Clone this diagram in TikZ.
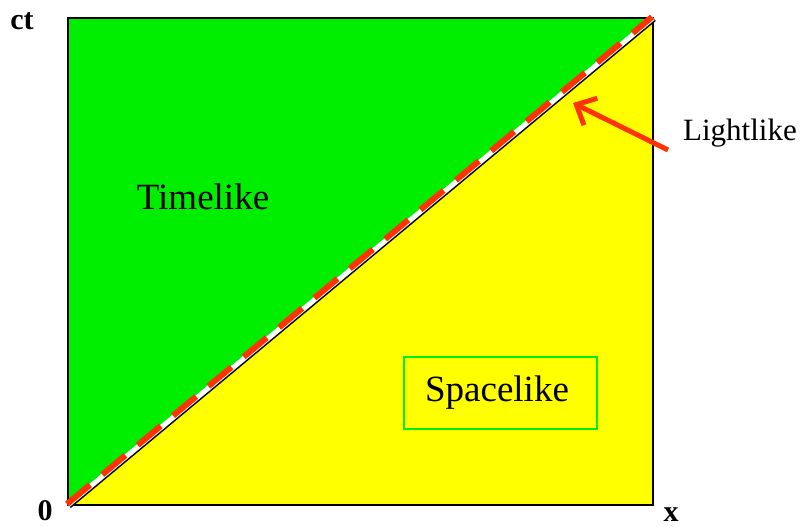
\documentclass[tikz,border=0pt]{standalone}
\usepackage{fontspec}
\setmainfont{Liberation Serif}
\usetikzlibrary{arrows.meta}
\definecolor{lgreen}{RGB}{0,238,0}
\definecolor{lyellow}{RGB}{255,255,0}
\definecolor{lred}{RGB}{255,51,0}
\tikzset{
  lbl/.style={font=\fontsize{37}{40}\selectfont, inner sep=0pt, anchor=base},
  axlbl/.style={font=\fontsize{30}{32}\selectfont\bfseries, inner sep=0pt, anchor=base},
}
\begin{document}
\begin{tikzpicture}[x=1pt,y=-1pt]
\useasboundingbox (0,0) rectangle (803,527);
\coordinate (O) at (68,505);
\coordinate (TL) at (68,18);
\coordinate (TR) at (653,18);
\coordinate (BR) at (653,505);
\fill[lgreen] (O) -- (TL) -- (TR) -- cycle;
\fill[lyellow] (O) -- (TR) -- (BR) -- cycle;
\draw[line width=2.5pt] (O) rectangle (TR);
% light line
\draw[line width=2.5pt, black] ([shift={(2,2)}]O) -- ([shift={(2,2)}]TR);
\draw[line width=5pt, white] (O) -- (TR);
\draw[line width=6pt, lred, dash pattern=on 30pt off 16pt] ([shift={(-1,-1)}]O) -- ([shift={(-1,-1)}]TR);
% labels
\node[lbl] (time) at (203,209) {Timelike};
\node[lbl, draw=lgreen, line width=2pt, minimum width=193pt, minimum height=72pt, anchor=center] (spacebox) at (500.5,393) {};
\node[lbl] (space) at (497,401) {Spacelike};
\node[lbl, font=\fontsize{31}{34}\selectfont] (light) at (740,140) {Lightlike};
\coordinate (astart) at (668,150);
\coordinate (aend) at (573,103);
\draw[line width=5pt, lred, -{Straight Barb[length=16pt,width=30pt,line width=5pt]}] (astart) -- (aend);
\node[axlbl] (ct) at (22,30) {ct};
\node[axlbl] (zero) at (45,520) {0};
\node[axlbl] (xx) at (671,521) {x};
\end{tikzpicture}
\end{document}
